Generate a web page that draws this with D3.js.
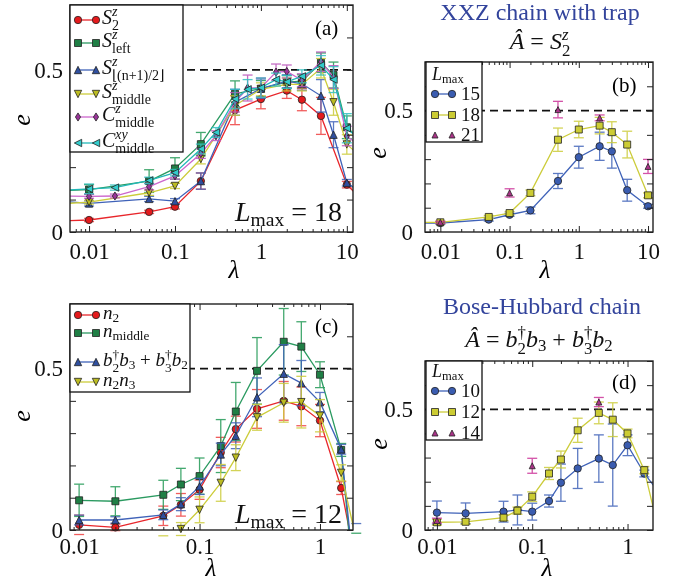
<!DOCTYPE html>
<html>
<head>
<meta charset="utf-8">
<script src="https://cdn.jsdelivr.net/npm/d3@7"></script>
<style>
  body { margin: 0; background: #fff; }
  text { font-family: "Liberation Serif", "Times New Roman", serif; }
</style>
</head>
<body>
<script>
// [lambda, e, error]
const aS2 = [[0.003,0.033,0],[0.01,0.037,0.005],[0.05,0.062,0.005],[0.1,0.078,0.007],[0.2,0.157,0.025],[0.5,0.376,0.045],[1,0.41,0.03],[2,0.436,0.024],[3,0.408,0.034],[5,0.358,0.057],[10,0.146,0.01],[15,0.10,0]];
const aSleft = [[0.003,0.125,0],[0.01,0.131,0.015],[0.05,0.157,0.035],[0.1,0.196,0.033],[0.2,0.271,0.036],[0.5,0.426,0.04],[1,0.442,0.025],[2,0.462,0.02],[3,0.465,0.02],[5,0.522,0.03],[7,0.484,0.04],[10,0.323,0.035],[15,0.28,0]];
const aSfloor = [[0.003,0.099,0],[0.01,0.088,0.008],[0.05,0.102,0.008],[0.1,0.095,0.008],[0.2,0.157,0.025],[0.5,0.40,0.04],[1,0.442,0.03],[2,0.465,0.02],[3,0.457,0.02],[5,0.42,0.05],[7,0.30,0.04],[10,0.152,0.01],[15,0.12,0]];
const aSmid = [[0.003,0.084,0],[0.01,0.092,0.006],[0.05,0.121,0.008],[0.1,0.142,0.008],[0.2,0.225,0.015],[0.5,0.39,0.03],[1,0.44,0.02],[2,0.455,0.02],[3,0.455,0.02],[5,0.505,0.03],[7,0.40,0.04],[10,0.27,0.03],[15,0.23,0]];
const aCz = [[0.003,0.112,0],[0.01,0.110,0.006],[0.02,0.111,0.006],[0.05,0.14,0.01],[0.1,0.173,0.01],[0.2,0.242,0.015],[0.3,0.297,0.015],[0.5,0.40,0.03],[0.7,0.444,0.04],[1,0.445,0.03],[1.5,0.493,0.025],[2,0.495,0.02],[3,0.468,0.02],[5,0.525,0.03],[7,0.478,0.035],[10,0.296,0.03],[15,0.26,0]];
const aCxy = [[0.003,0.125,0],[0.01,0.133,0.015],[0.02,0.137,0.008],[0.05,0.159,0.01],[0.1,0.183,0.01],[0.2,0.256,0.015],[0.3,0.307,0.015],[0.5,0.41,0.03],[0.7,0.44,0.03],[1,0.445,0.03],[1.5,0.47,0.02],[2,0.463,0.02],[3,0.48,0.02],[5,0.514,0.03],[7,0.47,0.04],[10,0.32,0.045],[15,0.28,0]];

const bL15 = [[0.004,0.037,0],[0.01,0.037,0.005],[0.05,0.051,0.006],[0.1,0.071,0.006],[0.2,0.089,0.014],[0.5,0.21,0.031],[1,0.308,0.045],[2,0.353,0.058],[3,0.332,0.069],[5,0.172,0.045],[10,0.106,0.008],[15,0.09,0]];
const bL18 = [[0.004,0.04,0],[0.01,0.04,0.005],[0.05,0.062,0.006],[0.1,0.078,0.006],[0.2,0.161,0.012],[0.5,0.38,0.048],[1,0.422,0.034],[2,0.438,0.034],[3,0.411,0.043],[5,0.36,0.055],[10,0.151,0.01],[15,0.12,0]];
const bL21 = [[0.01,0.04,0.004],[0.1,0.161,0.017],[0.5,0.504,0.034],[2,0.47,0.012],[10,0.27,0.029]];

const cN2 = [[0.01,0.016,0.03],[0.02,0.008,0.01],[0.05,0.044,0.03],[0.07,0.078,0.035],[0.1,0.125,0.03],[0.15,0.24,0.047],[0.2,0.3125,0.04],[0.3,0.375,0.06],[0.5,0.40,0.06],[0.7,0.383,0.06],[1,0.339,0.05],[1.5,0.13,0.02],[2,-0.11,0]];
const cNmid = [[0.01,0.092,0.05],[0.02,0.089,0.045],[0.05,0.109,0.045],[0.07,0.141,0.05],[0.1,0.167,0.056],[0.15,0.26,0.082],[0.2,0.367,0.09],[0.3,0.493,0.103],[0.5,0.583,0.103],[0.7,0.568,0.077],[1,0.481,0.04],[1.5,0.248,0.02],[2,-0.25,0.24]];
const cHop = [[0.01,0.031,0.015],[0.02,0.031,0.01],[0.05,0.047,0.015],[0.07,0.08,0.02],[0.1,0.135,0.025],[0.15,0.234,0.035],[0.2,0.292,0.04],[0.3,0.411,0.06],[0.5,0.484,0.09],[0.7,0.455,0.07],[1,0.396,0.03],[1.5,0.25,0.015],[2,-0.2,0.22]];
const cN2N3 = [[0.01,-0.12,0],[0.02,-0.12,0],[0.05,-0.06,0.042],[0.07,0.003,0.02],[0.1,0.0625,0.04],[0.15,0.146,0.057],[0.2,0.224,0.04],[0.3,0.349,0.04],[0.5,0.394,0.06],[0.7,0.396,0.08],[1,0.354,0.05],[1.5,0.177,0.025],[2,-0.03,0]];

const dL10 = [[0.01,0.072,0.048],[0.02,0.069,0.043],[0.05,0.076,0.043],[0.07,0.083,0.062],[0.1,0.076,0.035],[0.15,0.12,0.025],[0.2,0.196,0.077],[0.3,0.255,0.083],[0.5,0.296,0.098],[0.7,0.269,0.17],[1,0.351,0.043],[1.5,0.234,0.014],[2,0.17,0]];
const dL12 = [[0.01,0.032,0.012],[0.02,0.034,0.01],[0.05,0.051,0.012],[0.07,0.08,0.015],[0.1,0.138,0.02],[0.15,0.234,0.025],[0.2,0.292,0.035],[0.3,0.413,0.05],[0.5,0.485,0.045],[0.7,0.457,0.07],[1,0.40,0.018],[1.5,0.248,0.015],[2,0.04,0]];
const dL14 = [[0.01,0.039,0.01],[0.1,0.266,0.031],[0.5,0.53,0.019]];

const xTicksAB = [0.01, 0.1, 1, 10];
const xTicksCD = [0.01, 0.1, 1];
const yTicks = [0, 0.1, 0.2, 0.3, 0.4, 0.5, 0.6, 0.7];
const yLabels = [0, 0.5];

const W = 681, H = 582;
const svg = d3.select("body").append("svg").attr("width", W).attr("height", H);
const defs = svg.append("defs");

// marker shapes (half size r)
function shape(type, r) {
  switch (type) {
    case "circle": return d3.symbol(d3.symbolCircle, Math.PI * r * r)();
    case "square": return `M${-r},${-r}H${r}V${r}H${-r}Z`;
    case "up": return `M0,${-r}L${r},${r}L${-r},${r}Z`;
    case "down": return `M0,${r}L${r},${-r}L${-r},${-r}Z`;
    case "left": return `M${-r},0L${r},${-r}L${r},${r}Z`;
    case "diamond": return `M0,${-r * 1.1}L${r * 0.7},0L0,${r * 1.1}L${-r * 0.7},0Z`;
  }
}

// text with italic bits, subscripts and stacked sup/sub
function mtext(g, x, y, fs, parts, anchor) {
  const t = g.append("text").attr("x", x).attr("y", y).attr("font-size", fs)
    .attr("text-anchor", anchor || "start").attr("fill", "#111");
  let shift = 0, pad = 0;
  const go = to => { const d = to - shift; shift = to; return d; };
  parts.forEach(p => {
    if (p.t !== undefined) {
      t.append("tspan").attr("dy", go(0)).attr("dx", pad || null)
        .attr("font-style", p.it ? "italic" : null).text(p.t);
      pad = 0;
    }
    if (p.sup !== undefined || p.sub !== undefined) {
      let ws = 0, wb = 0;
      const stacked = p.sup !== undefined && p.sub !== undefined;
      if (p.sup !== undefined) {
        const s = t.append("tspan").attr("dy", go(-0.38 * fs)).attr("font-size", 0.7 * fs)
          .attr("font-style", p.supIt ? "italic" : null).text(p.sup);
        ws = s.node().getComputedTextLength();
      }
      if (p.sub !== undefined) {
        const s = t.append("tspan").attr("dy", go((stacked ? 0.3 : 0.18) * fs)).attr("dx", stacked ? -ws : null)
          .attr("font-size", 0.7 * fs).text(p.sub);
        wb = s.node().getComputedTextLength();
      }
      pad = stacked && ws > wb ? ws - wb : 0;
    }
  });
  return t;
}

function panel(p) {
  const x = d3.scaleLog().domain(p.xd).range([p.x0, p.x1]);
  const y = d3.scaleLinear().domain([0, 0.7]).range([p.y1, p.y0]);
  const g = svg.append("g");
  const id = "clip" + p.name;
  defs.append("clipPath").attr("id", id).append("rect")
    .attr("x", p.x0).attr("y", p.y0).attr("width", p.x1 - p.x0).attr("height", p.y1 - p.y0);
  const inside = (px, py, m) => px >= p.x0 - m && px <= p.x1 + m && py >= p.y0 - m && py <= p.y1 + m;

  g.append("line").attr("x1", p.x0).attr("x2", p.x1).attr("y1", y(0.5)).attr("y2", y(0.5))
    .attr("stroke", "#111").attr("stroke-width", 1.8).attr("stroke-dasharray", "8,5");

  p.series.forEach(s => {
    const gs = g.append("g");
    // error bars
    const eb = gs.append("g").attr("stroke", s.err).attr("stroke-width", 1.3).attr("opacity", 0.85);
    s.data.filter(d => d[2] > 0).forEach(d => {
      const px = x(d[0]);
      eb.append("line").attr("clip-path", `url(#${id})`)
        .attr("x1", px).attr("x2", px).attr("y1", y(d[1] - d[2])).attr("y2", y(d[1] + d[2]));
      [d[1] - d[2], d[1] + d[2]].forEach(v => {
        if (inside(px, y(v), 6))
          eb.append("line").attr("x1", px - 5).attr("x2", px + 5).attr("y1", y(v)).attr("y2", y(v));
      });
    });
    if (s.line) {
      gs.append("path").datum(s.data).attr("clip-path", `url(#${id})`)
        .attr("fill", "none").attr("stroke", s.color).attr("stroke-width", 1.3)
        .attr("d", d3.line().x(d => x(d[0])).y(d => y(d[1])));
    }
    s.data.filter(d => inside(x(d[0]), y(d[1]), 3)).forEach(d => {
      gs.append("path").attr("d", shape(s.shape, s.r || 3.7))
        .attr("transform", `translate(${x(d[0])},${y(d[1])})`)
        .attr("fill", s.fill).attr("stroke", "#222").attr("stroke-width", 0.8);
    });
  });

  // ticks
  const minor = [];
  for (let e = -3; e <= 1; e++) for (let k = 2; k <= 9; k++) {
    const v = k * Math.pow(10, e);
    if (v > p.xd[0] && v < p.xd[1]) minor.push(v);
  }
  const ax = g.append("g");
  ax.append("g").attr("transform", `translate(0,${p.y1})`)
    .call(d3.axisBottom(x).tickValues(p.ticks).tickSize(-6).tickPadding(p.xpad).tickFormat(d3.format("")));
  ax.append("g").attr("transform", `translate(0,${p.y1})`)
    .call(d3.axisBottom(x).tickValues(minor).tickSize(-3).tickFormat(""));
  ax.append("g").attr("transform", `translate(0,${p.y0})`)
    .call(d3.axisTop(x).tickValues(p.ticks).tickSize(-6).tickFormat(""));
  ax.append("g").attr("transform", `translate(0,${p.y0})`)
    .call(d3.axisTop(x).tickValues(minor).tickSize(-3).tickFormat(""));
  ax.append("g").attr("transform", `translate(${p.x0},0)`)
    .call(d3.axisLeft(y).tickValues(yTicks).tickSize(-6).tickPadding(p.ypad)
      .tickFormat(d => yLabels.includes(d) ? d3.format("")(d) : ""));
  ax.append("g").attr("transform", `translate(${p.x1},0)`)
    .call(d3.axisRight(y).tickValues(yTicks).tickSize(-6).tickFormat(""));
  ax.selectAll(".domain").remove();
  ax.selectAll("line").attr("stroke", "#222").attr("stroke-width", 1);
  ax.selectAll("text").attr("fill", "#111").attr("font-size", 23)
    .attr("font-family", "'Liberation Serif', serif");

  g.append("rect").attr("x", p.x0).attr("y", p.y0).attr("width", p.x1 - p.x0).attr("height", p.y1 - p.y0)
    .attr("fill", "none").attr("stroke", "#222").attr("stroke-width", 1.4);

  // axis labels
  g.append("text").attr("transform", `translate(${p.ex},${p.ey}) rotate(-90)`)
    .attr("text-anchor", "middle").attr("dy", "0.3em").attr("font-size", 26).attr("font-style", "italic").text("e");
  g.append("text").attr("x", p.lx).attr("y", p.y1 + 46).attr("text-anchor", "middle")
    .attr("font-size", 25).attr("font-style", "italic").text("λ");
  g.append("text").attr("x", p.tagX).attr("y", p.tagY).attr("font-size", 21).text(p.tag);

  // legend
  const lg = g.append("g");
  const lb = p.legend;
  lg.append("rect").attr("x", lb.x0).attr("y", lb.y0).attr("width", lb.x1 - lb.x0).attr("height", lb.y1 - lb.y0)
    .attr("fill", "#fff").attr("stroke", "#111").attr("stroke-width", 1.3);
  if (lb.header) mtext(lg, lb.hx, lb.hy, 18, lb.header);
  p.series.forEach((s, i) => {
    const yy = lb.rows[i];
    if (s.line) lg.append("line").attr("x1", lb.m0).attr("x2", lb.m1).attr("y1", yy).attr("y2", yy)
      .attr("stroke", s.color).attr("stroke-width", 1.3);
    [lb.m0, lb.m1].forEach(mx => lg.append("path").attr("d", shape(s.shape, s.r || 3.7))
      .attr("transform", `translate(${mx},${yy})`).attr("fill", s.fill).attr("stroke", "#222").attr("stroke-width", 0.8));
    mtext(lg, lb.tx, yy + lb.dy, lb.fs, s.label);
  });
  return g;
}

const red = { color: "#e8262b", fill: "#e41a1c", err: "#ee4040" };
const green = { color: "#2a9a60", fill: "#1f7f45", err: "#229955" };
const blue = { color: "#3f62b8", fill: "#2f4f9f", err: "#3f62b8" };
const yellow = { color: "#cccc3a", fill: "#bcbc22", err: "#cccc3a" };
const purple = { color: "#cc66cc", fill: "#993399", err: "#bb55bb" };
const cyan = { color: "#22b8b8", fill: "#33cccc", err: "#33c0c0" };

panel({
  name: "a", x0: 70, x1: 353, y0: 5, y1: 232, xd: [0.006, 11.8], ticks: xTicksAB, xpad: 11, ypad: 7,
  ex: 22, ey: 120, lx: 234, tag: "(a)", tagX: 315, tagY: 35,
  series: [
    Object.assign({ data: aS2, shape: "circle", line: true, label: [{ t: "S", it: 1 }, { sup: "z", supIt: 1, sub: "2" }] }, red),
    Object.assign({ data: aSleft, shape: "square", r: 3.5, line: true, label: [{ t: "S", it: 1 }, { sup: "z", supIt: 1, sub: "left" }] }, green),
    Object.assign({ data: aSfloor, shape: "up", line: true, label: [{ t: "S", it: 1 }, { sup: "z", supIt: 1, sub: "⌊(n+1)/2⌋" }] }, blue),
    Object.assign({ data: aSmid, shape: "down", line: true, label: [{ t: "S", it: 1 }, { sup: "z", supIt: 1, sub: "middle" }] }, yellow),
    Object.assign({ data: aCz, shape: "diamond", line: true, label: [{ t: "C", it: 1 }, { sup: "z", supIt: 1, sub: "middle" }] }, purple),
    Object.assign({ data: aCxy, shape: "left", line: true, label: [{ t: "C", it: 1 }, { sup: "xy", supIt: 1, sub: "middle" }] }, cyan)
  ],
  legend: { x0: 70, x1: 183, y0: 5, y1: 152, m0: 78, m1: 96, tx: 102, dy: 4, fs: 20, rows: [20, 43, 70, 94, 117, 143] }
});

panel({
  name: "b", x0: 425, x1: 653, y0: 62, y1: 232, xd: [0.006, 11.8], ticks: xTicksAB, xpad: 11, ypad: 12,
  ex: 378, ey: 153, lx: 545, tag: "(b)", tagX: 612, tagY: 92,
  series: [
    Object.assign({ data: bL15, shape: "circle", line: true, label: [{ t: "15" }] }, blue, { fill: "#3a5cb0" }),
    Object.assign({ data: bL18, shape: "square", r: 3.5, line: true, label: [{ t: "18" }] }, yellow, { fill: "#cccc33" }),
    { data: bL21, shape: "up", r: 3, line: false, fill: "#aa3388", err: "#cc3399", label: [{ t: "21" }] }
  ],
  legend: { x0: 426, x1: 482, y0: 62, y1: 142, m0: 435, m1: 452, tx: 461, dy: 6, fs: 19, rows: [94, 115, 135],
    header: [{ t: "L", it: 1 }, { sub: "max" }], hx: 432, hy: 80 }
});

panel({
  name: "c", x0: 70, x1: 353, y0: 304, y1: 530, xd: [0.0084, 1.88], ticks: xTicksCD, xpad: 8, ypad: 7,
  ex: 22, ey: 416, lx: 211, tag: "(c)", tagX: 315, tagY: 333,
  series: [
    Object.assign({ data: cN2, shape: "circle", line: true, label: [{ t: "n", it: 1 }, { sub: "2" }] }, red),
    Object.assign({ data: cNmid, shape: "square", r: 3.5, line: true, label: [{ t: "n", it: 1 }, { sub: "middle" }] }, green),
    Object.assign({ data: cHop, shape: "up", line: true, label: [{ t: "b", it: 1 }, { sup: "†", sub: "2" }, { t: "b", it: 1 }, { sub: "3" }, { t: " + " }, { t: "b", it: 1 }, { sup: "†", sub: "3" }, { t: "b", it: 1 }, { sub: "2" }] }, blue),
    Object.assign({ data: cN2N3, shape: "down", line: true, label: [{ t: "n", it: 1 }, { sub: "2" }, { t: "n", it: 1 }, { sub: "3" }] }, yellow)
  ],
  legend: { x0: 70, x1: 190, y0: 304, y1: 392, m0: 78, m1: 96, tx: 103, dy: 4, fs: 19, rows: [315, 333, 362, 382] }
});

panel({
  name: "d", x0: 425, x1: 653, y0: 361, y1: 530, xd: [0.0075, 1.85], ticks: xTicksCD, xpad: 8, ypad: 12,
  ex: 379, ey: 444, lx: 547, tag: "(d)", tagX: 612, tagY: 389,
  series: [
    Object.assign({ data: dL10, shape: "circle", line: true, label: [{ t: "10" }] }, blue, { fill: "#3a5cb0" }),
    Object.assign({ data: dL12, shape: "square", r: 3.5, line: true, label: [{ t: "12" }] }, yellow, { fill: "#cccc33" }),
    { data: dL14, shape: "up", r: 3, line: false, fill: "#aa3388", err: "#cc3399", label: [{ t: "14" }] }
  ],
  legend: { x0: 426, x1: 482, y0: 361, y1: 440, m0: 435, m1: 452, tx: 461, dy: 6, fs: 19, rows: [391, 412, 433],
    header: [{ t: "L", it: 1 }, { sub: "max" }], hx: 432, hy: 377 }
});

// L_max annotations
mtext(svg, 342, 221, 28, [{ t: "L", it: 1 }, { sub: "max" }, { t: " = 18" }], "end");
mtext(svg, 342, 523, 28, [{ t: "L", it: 1 }, { sub: "max" }, { t: " = 12" }], "end");

// titles
svg.append("text").attr("x", 540).attr("y", 20).attr("text-anchor", "middle").attr("font-size", 24)
  .attr("fill", "#33449c").text("XXZ chain with trap");
mtext(svg, 540, 49, 24, [{ t: "Â", it: 1 }, { t: " = " }, { t: "S", it: 1 }, { sup: "z", supIt: 1, sub: "2" }], "middle");
svg.append("text").attr("x", 542).attr("y", 314).attr("text-anchor", "middle").attr("font-size", 24)
  .attr("fill", "#33449c").text("Bose-Hubbard chain");
mtext(svg, 539, 347, 24, [{ t: "Â", it: 1 }, { t: " = " }, { t: "b", it: 1 }, { sup: "†", sub: "2" }, { t: "b", it: 1 }, { sub: "3" }, { t: " + " }, { t: "b", it: 1 }, { sup: "†", sub: "3" }, { t: "b", it: 1 }, { sub: "2" }], "middle");
</script>
</body>
</html>
